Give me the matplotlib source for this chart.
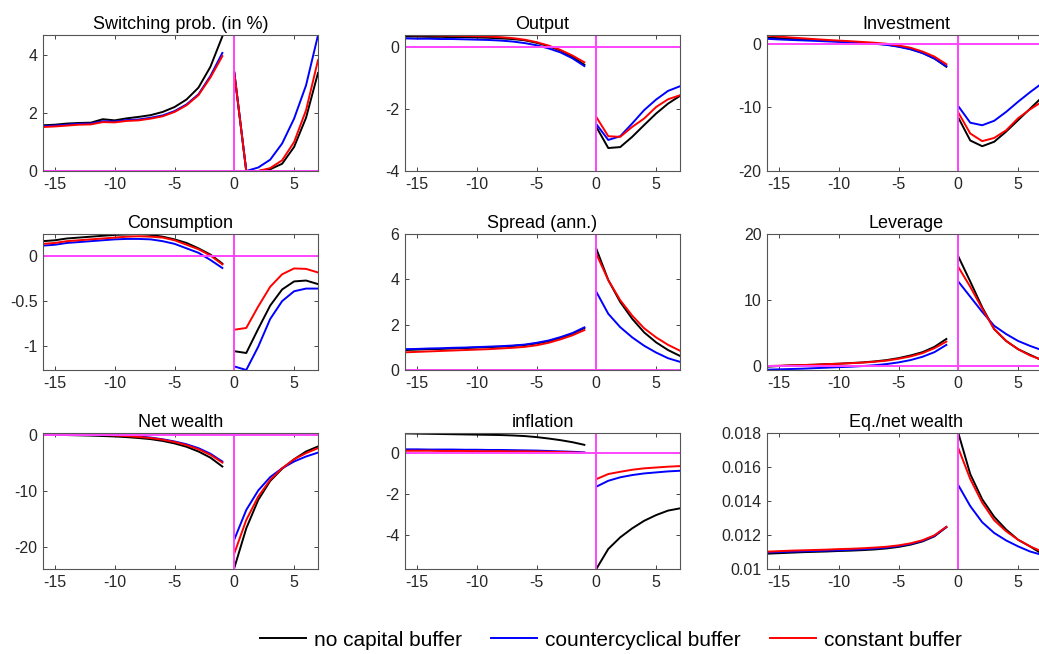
import matplotlib.pyplot as plt
from matplotlib.lines import Line2D

plt.rcParams['font.family'] = ['Liberation Sans', 'DejaVu Sans']
plt.rcParams['axes.unicode_minus'] = False

x_pre = list(range(-16, 0))
x_post = list(range(0, 8))

# each panel: pre-crisis values (t=-16..-1) and post-crisis values (t=0..7)
# order of series: no capital buffer, countercyclical buffer, constant buffer
switch_pre = {
    'none': [1.58, 1.60, 1.64, 1.66, 1.67, 1.79, 1.75, 1.82, 1.87, 1.93, 2.04, 2.21, 2.47, 2.88, 3.60, 4.65],
    'ccyb': [1.55, 1.57, 1.60, 1.63, 1.64, 1.72, 1.71, 1.76, 1.78, 1.84, 1.92, 2.07, 2.30, 2.65, 3.28, 4.08],
    'const': [1.52, 1.54, 1.57, 1.60, 1.61, 1.69, 1.68, 1.73, 1.75, 1.81, 1.89, 2.04, 2.27, 2.62, 3.23, 3.97],
}
switch_post = {
    'none': [3.40, 0.00, 0.00, 0.06, 0.25, 0.83, 1.84, 3.39],
    'ccyb': [3.40, 0.00, 0.12, 0.39, 0.95, 1.81, 2.96, 4.69],
    'const': [3.40, 0.00, 0.00, 0.10, 0.37, 1.00, 2.10, 3.83],
}

output_pre = {
    'none': [0.33, 0.33, 0.32, 0.32, 0.31, 0.31, 0.30, 0.29, 0.27, 0.25, 0.21, 0.13, 0.02, -0.12, -0.32, -0.58],
    'ccyb': [0.27, 0.26, 0.26, 0.25, 0.25, 0.24, 0.23, 0.22, 0.20, 0.17, 0.12, 0.05, -0.05, -0.18, -0.37, -0.62],
    'const': [0.38, 0.37, 0.37, 0.36, 0.36, 0.35, 0.34, 0.33, 0.31, 0.28, 0.23, 0.15, 0.04, -0.10, -0.28, -0.50],
}
output_post = {
    'none': [-2.58, -3.26, -3.23, -2.90, -2.52, -2.15, -1.83, -1.58],
    'ccyb': [-2.49, -3.00, -2.88, -2.47, -2.04, -1.70, -1.42, -1.27],
    'const': [-2.26, -2.88, -2.90, -2.58, -2.31, -1.94, -1.69, -1.56],
}

invest_pre = {
    'none': [1.0, 0.9, 0.8, 0.7, 0.6, 0.5, 0.4, 0.3, 0.2, 0.05, -0.1, -0.4, -0.8, -1.4, -2.3, -3.6],
    'ccyb': [0.8, 0.7, 0.62, 0.55, 0.48, 0.4, 0.32, 0.24, 0.15, 0.02, -0.15, -0.45, -0.85, -1.45, -2.3, -3.5],
    'const': [1.3, 1.15, 1.0, 0.88, 0.75, 0.63, 0.52, 0.42, 0.3, 0.18, 0.02, -0.25, -0.6, -1.2, -2.0, -3.2],
}
invest_post = {
    'none': [-11.6, -15.2, -16.1, -15.4, -13.8, -12.0, -10.2, -8.4],
    'ccyb': [-9.8, -12.4, -12.8, -12.1, -10.7, -9.1, -7.6, -6.2],
    'const': [-10.8, -14.1, -15.3, -14.8, -13.6, -11.7, -10.3, -9.1],
}

cons_pre = {
    'none': [0.17, 0.18, 0.20, 0.21, 0.22, 0.23, 0.24, 0.245, 0.25, 0.24, 0.22, 0.19, 0.15, 0.09, 0.02, -0.08],
    'ccyb': [0.12, 0.13, 0.15, 0.16, 0.17, 0.18, 0.19, 0.195, 0.195, 0.19, 0.17, 0.14, 0.09, 0.04, -0.04, -0.13],
    'const': [0.14, 0.15, 0.17, 0.18, 0.19, 0.20, 0.21, 0.22, 0.225, 0.22, 0.21, 0.18, 0.13, 0.08, 0.01, -0.09],
}
cons_post = {
    'none': [-1.06, -1.08, -0.81, -0.55, -0.37, -0.28, -0.27, -0.31],
    'ccyb': [-1.23, -1.27, -1.01, -0.70, -0.50, -0.39, -0.36, -0.36],
    'const': [-0.82, -0.80, -0.56, -0.34, -0.20, -0.135, -0.14, -0.18],
}

spread_pre = {
    'none': [0.88, 0.90, 0.92, 0.93, 0.95, 0.97, 0.99, 1.01, 1.03, 1.06, 1.10, 1.17, 1.27, 1.42, 1.60, 1.85],
    'ccyb': [0.92, 0.93, 0.95, 0.96, 0.98, 0.99, 1.01, 1.03, 1.05, 1.08, 1.12, 1.20, 1.30, 1.45, 1.63, 1.88],
    'const': [0.78, 0.80, 0.82, 0.84, 0.86, 0.88, 0.90, 0.92, 0.95, 0.98, 1.02, 1.09, 1.20, 1.35, 1.53, 1.76],
}
spread_post = {
    'none': [5.35, 3.97, 3.00, 2.26, 1.66, 1.22, 0.88, 0.62],
    'ccyb': [3.45, 2.48, 1.89, 1.44, 1.07, 0.77, 0.52, 0.36],
    'const': [5.12, 3.97, 3.08, 2.40, 1.84, 1.44, 1.11, 0.85],
}

lev_pre = {
    'none': [-0.1, 0.0, 0.1, 0.15, 0.2, 0.3, 0.35, 0.45, 0.55, 0.7, 0.9, 1.2, 1.6, 2.1, 2.9, 4.1],
    'ccyb': [-0.55, -0.5, -0.45, -0.4, -0.32, -0.25, -0.17, -0.1, 0.0, 0.12, 0.3, 0.55, 0.9, 1.4, 2.1, 3.2],
    'const': [0.0, 0.05, 0.1, 0.15, 0.2, 0.28, 0.35, 0.43, 0.52, 0.65, 0.82, 1.1, 1.45, 1.95, 2.7, 3.7],
}
lev_post = {
    'none': [16.6, 12.8, 8.9, 5.6, 3.8, 2.55, 1.7, 0.87],
    'ccyb': [12.8, 10.5, 8.2, 6.1, 4.85, 3.8, 3.05, 2.4],
    'const': [15.0, 12.0, 8.7, 5.6, 3.8, 2.55, 1.6, 0.92],
}

nw_pre = {
    'none': [0.1, 0.08, 0.05, 0.0, -0.05, -0.12, -0.2, -0.32, -0.48, -0.68, -1.0, -1.45, -2.05, -2.9, -4.0, -5.6],
    'ccyb': [0.4, 0.38, 0.35, 0.3, 0.25, 0.17, 0.08, -0.05, -0.2, -0.4, -0.7, -1.1, -1.6, -2.3, -3.3, -4.7],
    'const': [0.3, 0.28, 0.25, 0.2, 0.15, 0.07, -0.02, -0.13, -0.28, -0.48, -0.78, -1.2, -1.75, -2.5, -3.5, -4.9],
}
nw_post = {
    'none': [-23.8, -16.7, -11.6, -8.2, -6.0, -4.3, -2.9, -2.0],
    'ccyb': [-18.7, -13.4, -9.9, -7.5, -5.9, -4.7, -3.8, -3.1],
    'const': [-21.2, -15.2, -11.0, -8.0, -5.9, -4.3, -3.2, -2.3],
}

infl_pre = {
    'none': [0.98, 0.97, 0.96, 0.95, 0.94, 0.93, 0.92, 0.91, 0.9, 0.88, 0.85, 0.8, 0.73, 0.65, 0.55, 0.42],
    'ccyb': [0.2, 0.2, 0.19, 0.19, 0.19, 0.18, 0.18, 0.17, 0.17, 0.16, 0.15, 0.14, 0.12, 0.1, 0.08, 0.05],
    'const': [0.13, 0.13, 0.13, 0.12, 0.12, 0.12, 0.11, 0.11, 0.11, 0.1, 0.1, 0.09, 0.08, 0.07, 0.05, 0.03],
}
infl_post = {
    'none': [-5.66, -4.68, -4.11, -3.67, -3.30, -3.02, -2.80, -2.69],
    'ccyb': [-1.63, -1.34, -1.17, -1.06, -0.98, -0.93, -0.88, -0.85],
    'const': [-1.26, -1.01, -0.90, -0.80, -0.73, -0.69, -0.65, -0.62],
}

eq_pre = {
    'none': [0.01090, 0.01093, 0.01096, 0.01099, 0.01101, 0.01103, 0.01106, 0.01108, 0.01111, 0.01115, 0.01121, 0.01130, 0.01143, 0.01162, 0.01192, 0.01246],
    'ccyb': [0.01097, 0.01100, 0.01102, 0.01104, 0.01106, 0.01108, 0.01110, 0.01113, 0.01116, 0.01120, 0.01126, 0.01135, 0.01147, 0.01166, 0.01195, 0.01247],
    'const': [0.01102, 0.01105, 0.01108, 0.01110, 0.01112, 0.01114, 0.01117, 0.01119, 0.01122, 0.01126, 0.01131, 0.01139, 0.01151, 0.01169, 0.01198, 0.01248],
}
eq_post = {
    'none': [0.01800, 0.01558, 0.01410, 0.01307, 0.01232, 0.01172, 0.01133, 0.01089],
    'ccyb': [0.01493, 0.01370, 0.01275, 0.01212, 0.01168, 0.01133, 0.01103, 0.01083],
    'const': [0.01711, 0.01529, 0.01390, 0.01287, 0.01222, 0.01172, 0.01133, 0.01103],
}

titles = ['Switching prob. (in %)', 'Output', 'Investment',
          'Consumption', 'Spread (ann.)', 'Leverage',
          'Net wealth', 'inflation', 'Eq./net wealth']
panels = [(switch_pre, switch_post), (output_pre, output_post), (invest_pre, invest_post),
          (cons_pre, cons_post), (spread_pre, spread_post), (lev_pre, lev_post),
          (nw_pre, nw_post), (infl_pre, infl_post), (eq_pre, eq_post)]
ylims = [(0, 4.7), (-4, 0.38), (-20, 1.4),
         (-1.27, 0.25), (0, 6), (-0.6, 20),
         (-24, 0.42), (-5.66, 1.0), (0.01, 0.018)]
yticks = [[0, 2, 4], [-4, -2, 0], [-20, -10, 0],
          [-1, -0.5, 0], [0, 2, 4, 6], [0, 10, 20],
          [-20, -10, 0], [-4, -2, 0], [0.01, 0.012, 0.014, 0.016, 0.018]]
ytick_labels = [None, None, None,
                ['-1', '-0.5', '0'], None, None,
                None, None, ['0.01', '0.012', '0.014', '0.016', '0.018']]

series = ['none', 'ccyb', 'const']
colors = {'none': 'k', 'ccyb': '#0000ff', 'const': '#ff0000'}
labels = {'none': 'no capital buffer', 'ccyb': 'countercyclical buffer', 'const': 'constant buffer'}
magenta = '#ff44ff'
axis_col = '#262626'

fig = plt.figure(figsize=(10.39, 6.54), dpi=100)
W, H = 1039.0, 654.0
lefts = [43, 405, 767]
tops = [35, 234, 433]
pw, ph = 275, 136

for i in range(9):
    r, c = divmod(i, 3)
    w = pw + (3 if c == 2 else 0)
    xmax = 7 + (3 / pw * 23 if c == 2 else 0)
    ax = fig.add_axes([lefts[c] / W, 1 - (tops[r] + ph) / H, w / W, ph / H])
    pre, post = panels[i]
    for s in series:
        ax.plot(x_pre, pre[s], color=colors[s], lw=1.4)
        ax.plot(x_post, post[s], color=colors[s], lw=1.4)
    ax.axvline(0, color=magenta, lw=1.4)
    ax.axhline(0, color=magenta, lw=1.4)
    ax.set_xlim(-16, xmax)
    ax.set_ylim(*ylims[i])
    ax.set_xticks([-15, -10, -5, 0, 5])
    ax.set_yticks(yticks[i])
    if ytick_labels[i] is not None:
        ax.set_yticklabels(ytick_labels[i])
    ax.tick_params(direction='in', top=True, right=True, length=3, width=0.6,
                   labelsize=11.5, colors=axis_col, labelcolor=axis_col, pad=4)
    for sp in ax.spines.values():
        sp.set_color('#555555')
        sp.set_linewidth(0.8)
    ax.set_title(titles[i], fontsize=13, pad=4, color='k')

handles = [Line2D([0], [0], color=colors[s], lw=1.4) for s in series]
fig.legend(handles, [labels[s] for s in series], loc='center', ncol=3,
           bbox_to_anchor=(611 / W, 1 - 640 / H), frameon=False, fontsize=15,
           handlelength=2.2, handletextpad=0.4, columnspacing=1.4)

fig.savefig('out.png', dpi=100)
